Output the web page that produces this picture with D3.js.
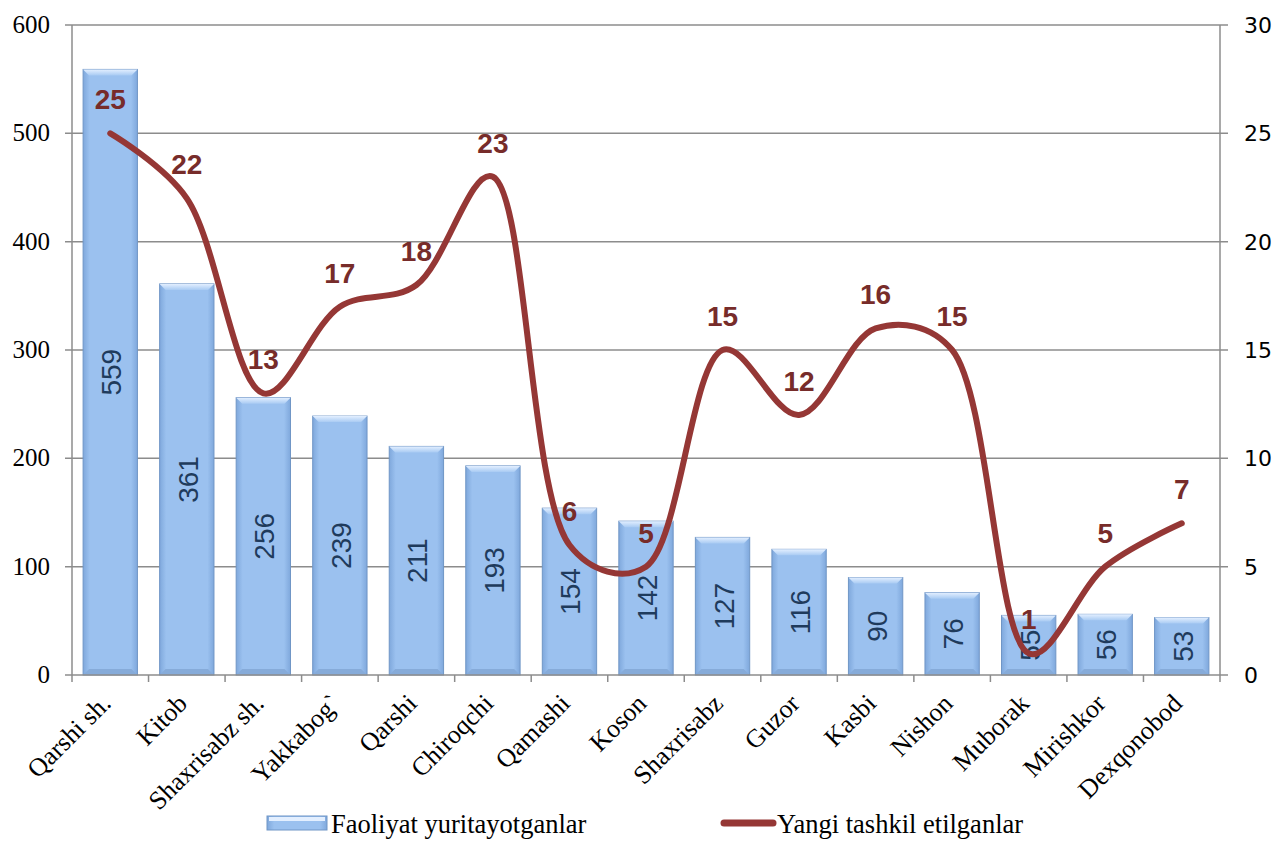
<!DOCTYPE html>
<html>
<head>
<meta charset="utf-8">
<script src="https://cdn.jsdelivr.net/npm/d3@7"></script>
<style>
  body { margin: 0; background: #fff; }
  svg { display: block; }
</style>
</head>
<body>
<script>
// data
var categories = ['Qarshi sh.', 'Kitob', 'Shaxrisabz sh.', 'Yakkabog`', 'Qarshi', 'Chiroqchi',
  'Qamashi', 'Koson', 'Shaxrisabz', 'Guzor', 'Kasbi', 'Nishon', 'Muborak', 'Mirishkor', 'Dexqonobod'];
var activeValues = [559, 361, 256, 239, 211, 193, 154, 142, 127, 116, 90, 76, 55, 56, 53];
var newValues = [25, 22, 13, 17, 18, 23, 6, 5, 15, 12, 16, 15, 1, 5, 7];
var leftTicks = [0, 100, 200, 300, 400, 500, 600];
var rightTicks = [0, 5, 10, 15, 20, 25, 30];
var seriesNames = ['Faoliyat yuritayotganlar', 'Yangi tashkil etilganlar'];

var width = 1275, height = 841;
var margin = {top: 25, right: 55, bottom: 166, left: 72};
var plotW = width - margin.left - margin.right,
    plotH = height - margin.top - margin.bottom;

var svg = d3.select('body').append('svg').attr('width', width).attr('height', height);

var defs = svg.append('defs');
var grad = defs.append('linearGradient').attr('id', 'barGrad').attr('x1', 0).attr('x2', 1).attr('y1', 0).attr('y2', 0);
grad.append('stop').attr('offset', '0%').attr('stop-color', '#7fa8dc');
grad.append('stop').attr('offset', '12%').attr('stop-color', '#9bc1ef');
grad.append('stop').attr('offset', '88%').attr('stop-color', '#9bc1ef');
grad.append('stop').attr('offset', '100%').attr('stop-color', '#7fa8dc');
var topGrad = defs.append('linearGradient').attr('id', 'topGrad').attr('x1', 0).attr('x2', 0).attr('y1', 0).attr('y2', 1);
topGrad.append('stop').attr('offset', '0%').attr('stop-color', '#e3efff');
topGrad.append('stop').attr('offset', '100%').attr('stop-color', '#a9cbf3');

var g = svg.append('g').attr('transform', 'translate(' + margin.left + ',' + margin.top + ')');

var x = d3.scaleBand().domain(categories).range([0, plotW]).paddingInner(0.29).paddingOuter(0.145);
var xc = d3.scaleBand().domain(categories).range([0, plotW]);
var y = d3.scaleLinear().domain([0, 600]).range([plotH, 0]);
var y2 = d3.scaleLinear().domain([0, 30]).range([plotH, 0]);

// gridlines
g.selectAll('line.grid').data(leftTicks.slice(1)).enter().append('line')
    .attr('class', 'grid')
    .attr('x1', -7).attr('x2', plotW + 8)
    .attr('y1', function(d) { return y(d) }).attr('y2', function(d) { return y(d) })
    .attr('stroke', '#8c8c8c').attr('stroke-width', 1.5);

// bars
var bars = g.selectAll('g.bar').data(activeValues).enter().append('g').attr('class', 'bar');
bars.append('rect')
    .attr('x', function(d, i) { return x(categories[i]) })
    .attr('y', function(d) { return y(d) })
    .attr('width', x.bandwidth())
    .attr('height', function(d) { return plotH - y(d) })
    .attr('fill', 'url(#barGrad)')
    .attr('stroke', '#7096c6').attr('stroke-width', 1);
bars.append('path')
    .attr('d', function(d, i) {
      var x0 = x(categories[i]), x1 = x0 + x.bandwidth(), t = y(d), b = 6;
      return 'M' + x0 + ',' + t + 'L' + x1 + ',' + t + 'L' + (x1 - b) + ',' + (t + b) + 'L' + (x0 + b) + ',' + (t + b) + 'Z';
    })
    .attr('fill', 'url(#topGrad)');
bars.append('path')
    .attr('d', function(d, i) {
      var x0 = x(categories[i]), x1 = x0 + x.bandwidth(), bt = plotH, b = 6;
      return 'M' + x0 + ',' + bt + 'L' + x1 + ',' + bt + 'L' + (x1 - b) + ',' + (bt - b) + 'L' + (x0 + b) + ',' + (bt - b) + 'Z';
    })
    .attr('fill', '#86abd9');

// bar labels
bars.append('text')
    .attr('transform', function(d, i) {
      var cx = x(categories[i]) + x.bandwidth() / 2,
          cy = (y(d) + plotH) / 2;
      return 'translate(' + (cx + 11) + ',' + cy + ') rotate(-90)';
    })
    .attr('text-anchor', 'middle')
    .style('font-family', 'Liberation Sans, Arial, sans-serif')
    .style('font-size', '28px')
    .attr('fill', '#1f3b5c')
    .text(function(d) { return d });

// axes lines
g.append('line').attr('x1', 0).attr('x2', 0).attr('y1', 0).attr('y2', plotH).attr('stroke', '#8c8c8c').attr('stroke-width', 1.5);
g.append('line').attr('x1', plotW).attr('x2', plotW).attr('y1', 0).attr('y2', plotH).attr('stroke', '#8c8c8c').attr('stroke-width', 1.5);
g.append('line').attr('x1', -7).attr('x2', plotW + 8).attr('y1', plotH).attr('y2', plotH).attr('stroke', '#8c8c8c').attr('stroke-width', 1.5);

// category tick marks
g.selectAll('line.ctick').data(categories.concat(['end'])).enter().append('line')
    .attr('x1', function(d, i) { return i * xc.step() }).attr('x2', function(d, i) { return i * xc.step() })
    .attr('y1', plotH).attr('y2', plotH + 7)
    .attr('stroke', '#8c8c8c').attr('stroke-width', 1.5);

// left axis labels
g.selectAll('text.yl').data(leftTicks).enter().append('text')
    .attr('x', -22).attr('y', function(d) { return y(d) + 8 })
    .attr('text-anchor', 'end')
    .style('font-family', 'Liberation Serif, Times New Roman, serif')
    .style('font-size', '25px')
    .text(function(d) { return d });

// right axis labels
g.selectAll('text.yr').data(rightTicks).enter().append('text')
    .attr('x', plotW + 24).attr('y', function(d) { return y2(d) + 8 })
    .attr('text-anchor', 'start')
    .style('font-family', 'DejaVu Sans, sans-serif')
    .style('font-size', '22px')
    .text(function(d) { return d });

// category labels
g.selectAll('text.cat').data(categories).enter().append('text')
    .attr('transform', function(d) {
      return 'translate(' + (xc(d) + xc.bandwidth() / 2 + 2) + ',' + (plotH + 30) + ') rotate(-45)';
    })
    .attr('text-anchor', 'end')
    .style('font-family', 'Liberation Serif, Times New Roman, serif')
    .style('font-size', '26px')
    .text(function(d) { return d });

// line series
var line = d3.line()
    .x(function(d, i) { return xc(categories[i]) + xc.bandwidth() / 2 })
    .y(function(d) { return y2(d) })
    .curve(d3.curveCatmullRom.alpha(0.4));
g.append('path').datum(newValues)
    .attr('d', line)
    .attr('fill', 'none')
    .attr('stroke', '#953735')
    .attr('stroke-width', 6)
    .attr('stroke-linecap', 'round');

g.selectAll('text.nl').data(newValues).enter().append('text')
    .attr('x', function(d, i) { return xc(categories[i]) + xc.bandwidth() / 2 })
    .attr('y', function(d) { return y2(d) - 24 })
    .attr('text-anchor', 'middle')
    .style('font-family', 'Liberation Sans, Arial, sans-serif')
    .style('font-size', '28px')
    .style('font-weight', 'bold')
    .attr('fill', '#772c2a')
    .text(function(d) { return d });

// legend
var lg = svg.append('g').attr('transform', 'translate(0,' + 825 + ')');
lg.append('rect').attr('x', 267).attr('y', -9).attr('width', 60).attr('height', 14)
    .attr('fill', 'url(#barGrad)').attr('stroke', '#7096c6');
lg.append('rect').attr('x', 269).attr('y', -8).attr('width', 56).attr('height', 4).attr('fill', '#e3efff');
lg.append('text').attr('x', 331).attr('y', 8)
    .style('font-family', 'Liberation Serif, Times New Roman, serif').style('font-size', '26.5px')
    .text(seriesNames[0]);
lg.append('line').attr('x1', 724).attr('x2', 773).attr('y1', -2).attr('y2', -2)
    .attr('stroke', '#953735').attr('stroke-width', 7).attr('stroke-linecap', 'round');
lg.append('text').attr('x', 777).attr('y', 8)
    .style('font-family', 'Liberation Serif, Times New Roman, serif').style('font-size', '26.5px')
    .text(seriesNames[1]);
</script>
</body>
</html>
